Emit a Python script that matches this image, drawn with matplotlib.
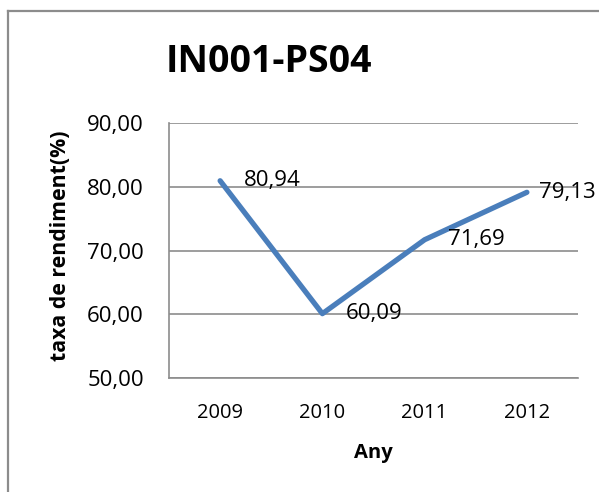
import matplotlib
matplotlib.use("Agg")
import matplotlib.pyplot as plt
from matplotlib.lines import Line2D

years = ["2009", "2010", "2011", "2012"]
rates = [80.94, 60.09, 71.69, 79.13]
rate_labels = ["80,94", "60,09", "71,69", "79,13"]
y_ticks = [50, 60, 70, 80, 90]
y_tick_labels = ["50,00", "60,00", "70,00", "80,00", "90,00"]

plt.rcParams["font.family"] = ["Open Sans", "DejaVu Sans"]

W, H = 599, 492
fig = plt.figure(figsize=(W / 100, H / 100), dpi=100)
fig.patch.set_facecolor("white")

# chart frame (only top and left edges show)
fig.add_artist(Line2D([8 / W, 8 / W], [1 - 11 / H, 0], transform=fig.transFigure,
                      color="#8c8c8c", lw=1.6))
fig.add_artist(Line2D([8 / W, 1], [1 - 11 / H, 1 - 11 / H], transform=fig.transFigure,
                      color="#8c8c8c", lw=1.6))

ax = fig.add_axes([169 / W, 1 - 378 / H, 409 / W, 255 / H])
x = list(range(len(years)))
ax.plot(x, rates, color="#4a7ebb", lw=3.8, solid_capstyle="round", zorder=3)

offsets = [17, 17, 17, 9]
for xi, v, lab, dx in zip(x, rates, rate_labels, offsets):
    ax.annotate(lab, (xi, v), xytext=(dx, 0), textcoords="offset points",
                ha="left", va="center", fontsize=16, color="black",
                annotation_clip=False, zorder=4)

ax.set_xlim(-0.5, 3.5)
ax.set_ylim(50, 90)
ax.set_xticks(x)
ax.set_xticklabels(years, fontsize=14.5)
ax.set_yticks(y_ticks)
ax.set_yticklabels(y_tick_labels, fontsize=16)
ax.tick_params(axis="both", length=0)
ax.tick_params(axis="x", pad=18)
ax.tick_params(axis="y", pad=18)
ax.grid(axis="y", color="#8c8c8c", lw=1.2)
ax.set_axisbelow(True)
for side in ["top", "right"]:
    ax.spines[side].set_visible(False)
for side in ["left", "bottom"]:
    ax.spines[side].set_color("#8c8c8c")
    ax.spines[side].set_linewidth(1.2)

fig.text(269 / W, 1 - 62 / H, "IN001-PS04", ha="center", va="center",
         fontsize=27, fontweight="bold")
fig.text(61 / W, 1 - 246 / H, "taxa de rendiment(%)", ha="center", va="center",
         rotation=90, fontsize=15.3, fontweight="bold")
fig.text(373 / W, 1 - 453 / H, "Any", ha="center", va="center",
         fontsize=14.5, fontweight="bold")

fig.savefig("out.png", dpi=100)
